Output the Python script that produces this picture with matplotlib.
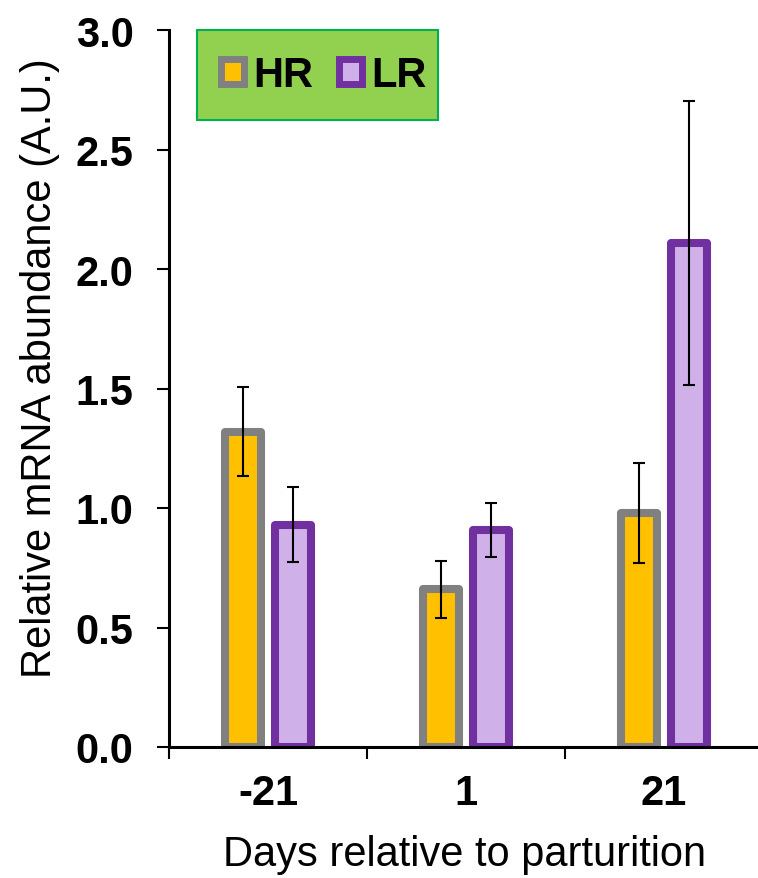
import matplotlib
matplotlib.use("Agg")
import matplotlib.pyplot as plt
from matplotlib.patches import Patch, Rectangle
import numpy as np

plt.rcParams['font.family'] = ['Liberation Sans', 'DejaVu Sans']

# data
days = ['-21', '1', '21']
hr_mean = [1.32, 0.66, 0.98]
hr_err = [0.185, 0.12, 0.21]
lr_mean = [0.93, 0.91, 2.11]
lr_err = [0.157, 0.113, 0.595]

hr_fill, hr_edge = '#FFC000', '#808080'
lr_fill, lr_edge = '#D0B0E8', '#7030A0'

fig = plt.figure(figsize=(7.58, 8.79), dpi=100)
ax = fig.add_axes([169/758, 131/879, 594/758, 717/879])

x = np.arange(len(days))
w = 0.182
off = 0.128

ax.bar(x - off, hr_mean, w, color=hr_fill, edgecolor=hr_edge, linewidth=5.8,
       joinstyle='round', zorder=2)
ax.bar(x + off, lr_mean, w, color=lr_fill, edgecolor=lr_edge, linewidth=5.8,
       joinstyle='round', zorder=2)
ax.errorbar(x - off, hr_mean, yerr=hr_err, fmt='none', ecolor='black',
            elinewidth=1.5, capsize=4.3, capthick=1.5, zorder=3)
ax.errorbar(x + off, lr_mean, yerr=lr_err, fmt='none', ecolor='black',
            elinewidth=1.5, capsize=4.3, capthick=1.5, zorder=3)

ax.set_xlim(-0.5, 2.5)
ax.set_ylim(0, 3.0)
yt = np.arange(0, 3.01, 0.5)
ax.set_yticks(yt)
ax.set_yticklabels([f'{v:.1f}' for v in yt], fontsize=30, fontweight='bold')
ax.set_xticks([-0.5, 0.5, 1.5, 2.5])
ax.set_xticklabels([])
ax.set_xticks(x, minor=True)
ax.set_xticklabels(days, minor=True, fontsize=30, fontweight='bold')
ax.tick_params(axis='x', which='major', length=8.6, width=1.5, direction='out')
ax.tick_params(axis='x', which='minor', length=0, pad=19)
ax.tick_params(axis='y', length=8.6, width=1.5, direction='out', pad=17)

for s in ['top', 'right']:
    ax.spines[s].set_visible(False)
for s in ['left', 'bottom']:
    ax.spines[s].set_linewidth(2.2)
    ax.spines[s].set_zorder(4)

ax.set_ylabel('Relative mRNA abundance (A.U.)', fontsize=30, va='center')
ax.yaxis.set_label_coords(-0.2172, 0.530)
ax.set_xlabel('Days relative to parturition', fontsize=30, va='center')
ax.xaxis.set_label_coords(0.498, -0.1492)

# legend box (green panel) and entries
fig.patches.append(Rectangle((197/758, 1 - 121/879), 241/758, 90/879,
                             transform=fig.transFigure, facecolor='#92D050',
                             edgecolor='#00B050', linewidth=1.5, zorder=5))
handles = [Patch(facecolor=hr_fill, edgecolor=hr_edge, linewidth=5,
                 joinstyle='round', label='HR'),
           Patch(facecolor=lr_fill, edgecolor=lr_edge, linewidth=5,
                 joinstyle='round', label='LR')]
leg = fig.legend(handles=handles, loc='center',
                 bbox_to_anchor=(324/758, 1 - 76/879),
                 ncol=2, frameon=False, borderpad=0.3,
                 handlelength=0.55, handleheight=0.55,
                 handletextpad=0.22, columnspacing=0.62,
                 prop={'size': 30, 'weight': 'bold'})
leg.set_zorder(6)

fig.savefig('out.png', dpi=100)
